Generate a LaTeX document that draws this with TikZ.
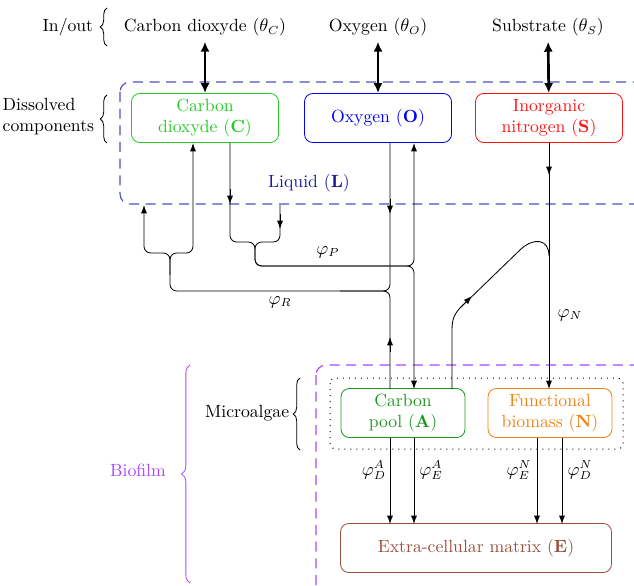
\documentclass[tikz,border=0pt]{standalone}
\usepackage{fontspec}
\usetikzlibrary{arrows.meta,decorations.pathreplacing}
\definecolor{cgreen}{RGB}{34,204,34}
\definecolor{agreen}{RGB}{30,150,30}
\definecolor{oblue}{RGB}{0,0,245}
\definecolor{sred}{RGB}{250,20,20}
\definecolor{norange}{RGB}{240,130,20}
\definecolor{ebrown}{RGB}{150,80,60}
\definecolor{liqline}{RGB}{80,80,190}
\definecolor{liqtext}{RGB}{25,25,150}
\definecolor{biopurple}{RGB}{170,70,255}
\begin{document}
\begin{tikzpicture}[x=0.6pt,y=-0.6pt,
  every node/.style={font=\fontsize{10.6}{12.6}\selectfont},
  box/.style={draw,rounded corners=5pt,align=center,minimum height=29.4pt,inner sep=2pt,line width=0.5pt},
  flow/.style={draw,line width=0.5pt,rounded corners=4pt},
  tip/.style={-{Latex[length=5pt,width=3.6pt]},line width=0.5pt},
  ex/.style={{Latex[length=6pt,width=5.5pt]}-{Latex[length=6pt,width=5.5pt]},line width=1.6pt},
  brc/.style={decorate,decoration={brace,amplitude=4pt},line width=0.5pt},
  liq/.style={draw=liqline,dash pattern=on 6pt off 4pt,line width=0.7pt,rounded corners=6pt},
  bio/.style={draw=biopurple,dash pattern=on 6pt off 4pt,line width=0.7pt,rounded corners=6pt},
  alg/.style={draw,dash pattern=on 0.6pt off 3pt,line width=0.6pt,rounded corners=3pt}
]
\useasboundingbox (0,0) rectangle (634,585);

% compartments
\draw[liq] (120,82) rectangle (646,204);
\draw[bio] (316,365) rectangle (646,600);
\draw[alg] (330,378) rectangle (623,449);

% in/out
\node[anchor=east] (io) at (99,27) {In/out};
\draw[brc] (107,46) -- (107,8);
\node (inC) at (205,27) {Carbon dioxyde ($\theta_C$)};
\node (inO) at (378,27) {Oxygen ($\theta_O$)};
\node (inS) at (548,27) {Substrate ($\theta_S$)};

% dissolved
\node[anchor=east,align=left] (dc) at (100,117) {Dissolved\\components};
\draw[brc] (107,143) -- (107,95);
\node[box,draw=cgreen,text=cgreen,minimum width=88.2pt] (C) at (205,118) {Carbon\\dioxyde (\textbf{C})};
\node[box,draw=oblue,text=oblue,minimum width=88.2pt] (O) at (378,118) {Oxygen (\textbf{O})};
\node[box,draw=sred,text=sred,minimum width=88.2pt] (S) at (549,118) {Inorganic\\nitrogen (\textbf{S})};
\node[text=liqtext] (L) at (309,183) {Liquid (\textbf{L})};

\draw[ex] (inC) -- (C);
\draw[ex] (inO) -- (O);
\draw[ex] (inS) -- (S);

% microalgae / biofilm
\node[anchor=east] (ma) at (295,413) {Microalgae};
\draw[brc] (300,450) -- (300,378);
\node[text=biopurple] (bf) at (138,470) {Biofilm};
\draw[brc,draw=biopurple,decoration={amplitude=5pt}] (190,583) -- (190,365);
\node[box,draw=agreen,text=agreen,minimum width=74.4pt] (A) at (403,413) {Carbon\\pool (\textbf{A})};
\node[box,draw=norange,text=norange,minimum width=74.4pt] (N) at (550,413) {Functional\\biomass (\textbf{N})};
\node[box,draw=ebrown,text=ebrown,minimum width=162.6pt] (E) at (476,548) {Extra-cellular matrix (\textbf{E})};

% phi_R
\draw[flow,tip] (390,143) -- (390,291) -- (170,291) -- (170,253) -- (193,253) -- (193,143);
\draw[flow,tip] (170,275) -- (170,253) -- (144,253) -- (144,205);
\draw[flow] (390,389) -- (390,291) -- (340,291);
\draw[tip] (390,199) -- (390,214);
\draw[tip] (390,352) -- (390,337);
\node (pR) at (280,302) {$\varphi_R$};

% phi_P
\draw[flow,tip] (230,143) -- (230,242) -- (255,242) -- (255,266) -- (414,266) -- (414,143);
\draw[flow,tip] (280,205) -- (280,242) -- (255,242) -- (255,266) -- (414,266) -- (414,389);
\draw[tip] (230,189) -- (230,204);
\draw[tip] (280,214) -- (280,229);
\node (pP) at (328,252) {$\varphi_P$};

% phi_N
\draw[flow,tip] (549,143) -- (549,389);
\draw[tip] (549,160) -- (549,175);
\draw[line width=0.5pt] (452,389) -- (452,330) .. controls (452,318) and (455,313) .. (461,307) -- (521,249) .. controls (533,238) and (549,238) .. (549,256);
\draw[tip] (461,307) -- (472,296);
\node (pN) at (570,315) {$\varphi_N$};

% decay / excretion
\draw[flow,tip] (390,438) -- (390,524);
\draw[flow,tip] (414,438) -- (414,524);
\draw[flow,tip] (537,438) -- (537,524);
\draw[flow,tip] (562,438) -- (562,524);
\node (dA) at (374,470) {$\varphi_D^A$};
\node (eA) at (431,470) {$\varphi_E^A$};
\node (eN) at (519,470) {$\varphi_E^N$};
\node (dN) at (580,470) {$\varphi_D^N$};
\end{tikzpicture}
\end{document}
